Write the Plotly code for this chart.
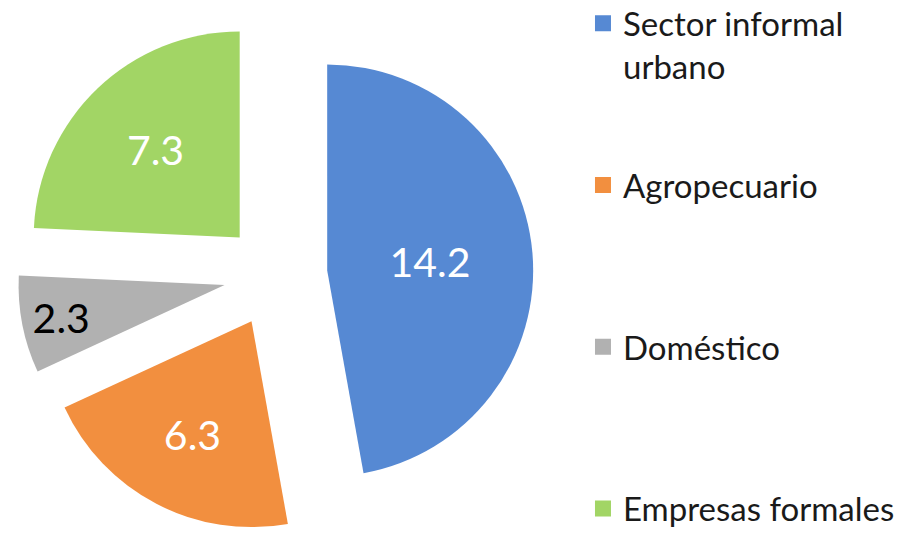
import plotly.graph_objects as go

# Data
categories = ["Sector informal urbano", "Agropecuario", "Doméstico", "Empresas formales"]
legend_labels = ["Sector informal<br>urbano", "Agropecuario<br>&nbsp;", "Doméstico<br>&nbsp;", "Empresas formales"]
values = [14.2, 6.3, 2.3, 7.3]
text_labels = ["14.2", "6.3", "2.3", "7.3"]

# Styles
colors = ["#5689d3", "#f28f3f", "#b1b1b1", "#a2d565"]
text_colors = ["white", "white", "black", "white"]
FONT = "Lato, 'Open Sans', sans-serif"

fig = go.Figure()

fig.add_trace(go.Pie(
    labels=categories,
    values=values,
    text=text_labels,
    textinfo="text",
    textposition="inside",
    insidetextorientation="horizontal",
    insidetextfont=dict(family=FONT, size=41, color=text_colors),
    marker=dict(colors=colors, line=dict(width=0)),
    sort=False,
    direction="clockwise",
    rotation=0,
    pull=[0.252] * len(values),
    showlegend=False,
    hoverinfo="label+value",
    domain=dict(x=[0.0191, 0.5785], y=[0.0, 0.9677]),
))

# Legend entries (square swatches) matching slice colours
for i, (lab, col) in enumerate(zip(legend_labels, colors)):
    fig.add_trace(go.Scatter(
        x=[None], y=[None],
        mode="markers",
        marker=dict(symbol="square", size=16, color=col),
        name=lab,
        legendgroup=f"g{i}",
        showlegend=True,
        hoverinfo="skip",
    ))

fig.update_layout(
    width=922,
    height=533,
    margin=dict(l=0, r=0, t=0, b=0, autoexpand=False),
    paper_bgcolor="white",
    plot_bgcolor="white",
    xaxis=dict(visible=False),
    yaxis=dict(visible=False),
    showlegend=True,
    legend=dict(
        x=0.6323, xanchor="left",
        y=1.009, yanchor="top",
        font=dict(family=FONT, size=33, color="#1a1a1a"),
        traceorder="grouped",
        tracegroupgap=73,
        valign="top",
        itemsizing="trace",
        bgcolor="rgba(0,0,0,0)",
        maxheight=1000,
    ),
)

fig.write_html(
    "out.html",
    config={"displayModeBar": False},
    post_script="document.body.style.margin='0';",
)
